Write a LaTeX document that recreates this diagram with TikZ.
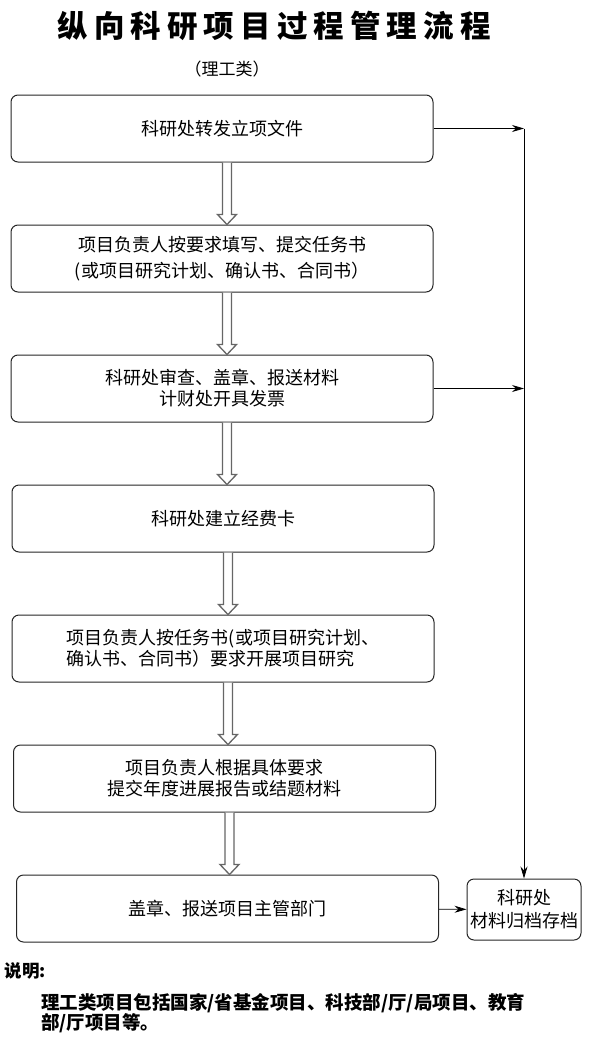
\documentclass[tikz,border=0pt]{standalone}
\usepackage{fontspec}
\setmainfont{Noto Sans CJK SC}
\newfontfamily\titlefont{Noto Sans CJK SC}[LetterSpace=20]
\usetikzlibrary{arrows.meta,calc}
\tikzstyle{flow box}=[
        draw = black!85,
        line width = 1pt,
        rounded corners = 7pt,
        fill = white,
        minimum width = 422pt,
        minimum height = 67pt,
        align = center,
        font = \fontsize{18}{21}\selectfont
    ]
\tikzstyle{file box}=[
    draw = black!85,
    line width = 1pt,
    rounded corners = 7pt,
    fill = white,
    minimum width = 114pt,
    minimum height = 61pt,
    inner sep = 0pt,
    align = center,
    font = \fontsize{18}{23}\selectfont
]
\tikzstyle{hollow arrow}=[
    draw = black!60,
    line width = 1.3pt,
    fill = white
]
\tikzstyle{thin arrow}=[
    draw = black,
    line width = 0.8pt,
    -{Stealth[length=12pt, width=7pt]}
]
\newcommand{\hollowarrow}[2]{%
    \draw[hollow arrow] ($(#1.south)+(0.5,0)$)
        -- ($(#1.south |- #2.north)+(0.5,-10)$)
        -- ($(#1.south |- #2.north)+(-4.5,-10)$)
        -- ($(#1.south |- #2.north)+(5,0)$)
        -- ($(#1.south |- #2.north)+(14.5,-10)$)
        -- ($(#1.south |- #2.north)+(9.5,-10)$)
        -- ($(#1.south)+(9.5,0)$);}

\begin{document}
\begin{tikzpicture}[x=1pt, y=-1pt, node distance={130pt}]
        \useasboundingbox (0,0) rectangle (603,1049);
        \node[font=\titlefont\bfseries\fontsize{30.5}{30.5}\selectfont] (title) at (274,26) {纵向科研项目过程管理流程};
        \node[font=\fontsize{17}{17}\selectfont] (sub) at (227,69) {（理工类）};

        \node[flow box] (b1) at (222,128.5) {科研处转发立项文件};
        \node[flow box] (b2) [below of = b1] {项目负责人按要求填写、提交任务书\\[5pt](或项目研究计划、确认书、合同书）};
        \node[flow box] (b3) [below of = b2] {科研处审查、盖章、报送材料\\计财处开具发票};
        \node[flow box] (b4) [below of = b3, xshift=1pt] {科研处建立经费卡};
        \node[flow box, align=left] (b5) [below of = b4] {项目负责人按任务书(或项目研究计划、\\确认书、合同书）要求开展项目研究};
        \node[flow box] (b6) [below of = b5, xshift=1.5pt] {项目负责人根据具体要求\\提交年度进展报告或结题材料};
        \node[flow box] (b7) [below of = b6, xshift=3pt] {盖章、报送项目主管部门};
        \node[file box] (arch) at (524,909.5) {科研处\\材料归档存档};

        \hollowarrow{b1}{b2}
        \hollowarrow{b2}{b3}
        \hollowarrow{b3}{b4}
        \hollowarrow{b4}{b5}
        \hollowarrow{b5}{b6}
        \hollowarrow{b6}{b7}

        \coordinate (top) at (b1.east -| arch);
        \draw[thin arrow] (b1.east) -- (top);
        \draw[thin arrow] (top) -- (arch.north);
        \draw[thin arrow] (b3.east) -- (b3.east -| arch);
        \draw[thin arrow] (b7) -- (arch);

        \node[font=\bfseries\fontsize{17.5}{17.5}\selectfont, anchor=west] (note) at (1,971) {说明:};
        \node[font=\bfseries\fontsize{18.5}{19}\selectfont, anchor=north west, align=left, inner sep=0pt] (desc) at (41,993) {理工类项目包括国家/省基金项目、科技部/厅/局项目、教育\\部/厅项目等。};

    \end{tikzpicture}
\end{document}
